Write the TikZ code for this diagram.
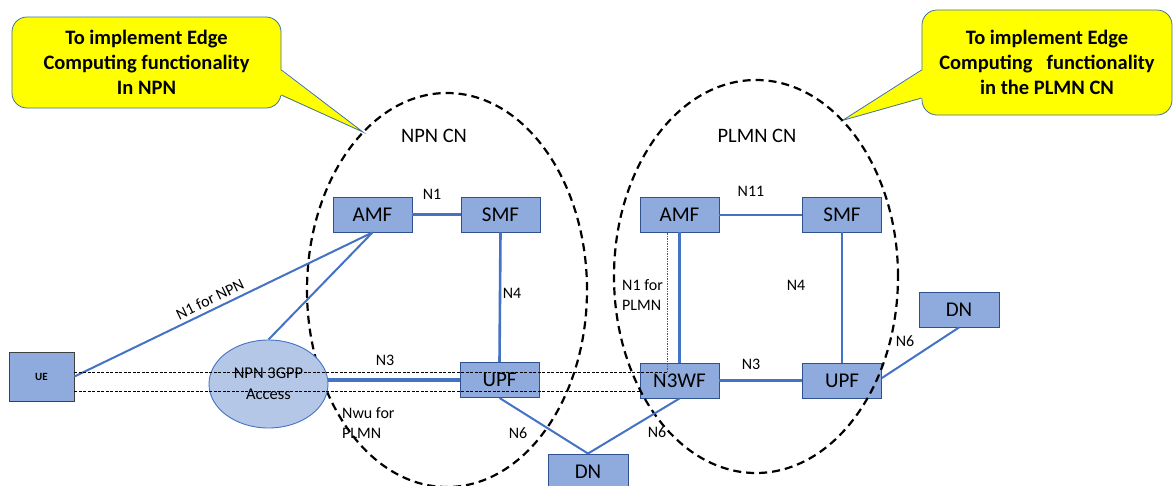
\documentclass[tikz,border=0pt]{standalone}
\usepackage{fontspec}
\setmainfont{Carlito}
\usetikzlibrary{shapes.geometric,calc}
\definecolor{boxfill}{HTML}{8FAADC}
\definecolor{boxline}{HTML}{2F528F}
\definecolor{linkblue}{HTML}{4472C4}
\definecolor{accfill}{HTML}{B4C7E7}
\definecolor{callfill}{HTML}{FFFF00}
\definecolor{callline}{HTML}{41719C}
\definecolor{uelines}{HTML}{404040}

\begin{document}
\begin{tikzpicture}[x=1pt,y=-1pt,
  nf/.style={draw=boxline, line width=0.9pt, fill=boxfill, minimum width=79pt,
    minimum height=35pt, inner sep=0pt, font=\fontsize{21}{24}\selectfont},
  cn/.style={ellipse, draw=black, line width=2.2pt, dash pattern=on 8pt off 5pt,
    inner sep=0pt},
  callout/.style={draw=callline, line width=0.8pt, fill=callfill, rounded corners=15pt,
    inner sep=0pt, align=center, font=\bfseries\fontsize{20.5}{24.8}\selectfont},
  link/.style={draw=linkblue, line width=2pt},
  thicklink/.style={draw=linkblue, line width=3.3pt},
  tdash/.style={draw=black, line width=0.8pt, dash pattern=on 3pt off 1.5pt},
  tdot/.style={draw=black!65, line width=0.8pt, dash pattern=on 1.5pt off 1pt},
  lbl/.style={font=\fontsize{16}{20}\selectfont, inner sep=1pt},
  cnlbl/.style={font=\fontsize{20.5}{24}\selectfont, inner sep=0pt}]
\clip (0,0) rectangle (1173,485);
\fill[white] (0,0) rectangle (1173,485);

% core network areas (placed first so the callouts can point at them)
\path (447,290) node[ellipse, minimum width=280pt, minimum height=394pt, inner sep=0pt] (npnshape) {};
\path (756,276.5) node[ellipse, minimum width=284pt, minimum height=393pt, inner sep=0pt] (plmnshape) {};

% callouts
\node[callout, minimum width=269pt, minimum height=91pt] (calloutL) at (146.5,62.5)
  {To implement Edge\\Computing functionality\\In NPN};
\fill[callfill] ($(calloutL.east)+(-1.5,7.5)$) -- (npnshape.118) -- ($(calloutL.east)+(-1.5,32.5)$) -- cycle;
\draw[callline, line width=0.8pt] ($(calloutL.east)+(0,7.5)$) -- (npnshape.118) -- ($(calloutL.east)+(0,32.5)$);

\node[callout, minimum width=250pt, minimum height=105pt] (calloutR) at (1047,62.5)
  {To implement Edge\\Computing\ \ \ functionality\\in the PLMN CN};
\fill[callfill] ($(calloutR.west)+(1.5,7.5)$) -- (plmnshape.61) -- ($(calloutR.west)+(1.5,35.5)$) -- cycle;
\draw[callline, line width=0.8pt] ($(calloutR.west)+(0,7.5)$) -- (plmnshape.61) -- ($(calloutR.west)+(0,35.5)$);

% network functions
\node[nf] (AMF)  at (372.5,214.5) {AMF};
\node[nf] (SMF)  at (500.5,214.5) {SMF};
\node[nf] (UPF)  at (499.5,380)   {UPF};
\node[nf] (PAMF) at (679.5,214.5) {AMF};
\node[nf] (PSMF) at (842,214.5)   {SMF};
\node[nf] (N3WF) at (679.5,380.5) {N3WF};
\node[nf] (PUPF) at (842,380.5)   {UPF};
\node[nf, minimum width=80pt] (DNR) at (959,309.5) {DN};
\node[nf, minimum width=80pt] (DNB) at (588,471.5) {DN};
\node[draw=uelines, line width=0.9pt, fill=boxfill, minimum width=65pt, minimum height=49pt,
  inner sep=0pt, font=\bfseries\fontsize{11}{13}\selectfont] (UE) at (41.5,376.5) {UE};

% dashed core network boundaries
\node[cn, minimum width=280pt, minimum height=394pt] (npn) at (447,290) {};
\node[cn, minimum width=284pt, minimum height=393pt] (plmn) at (756,276.5) {};
\node[cnlbl] (npnlbl)  at (434,136) {NPN CN};
\node[cnlbl] (plmnlbl) at (757,136) {PLMN CN};

% access network
\node[ellipse, draw=linkblue, line width=0.9pt, fill=accfill, minimum width=119pt,
  minimum height=88pt, inner sep=0pt, align=center,
  font=\fontsize{16.5}{21}\selectfont] (ACC) at (268.5,384) {NPN 3GPP\\Access};

% NPN links
\draw[link] (UE.east) -- node[lbl, sloped, above, pos=0.47, inner sep=4pt] {N1 for NPN} (AMF.south);
\draw[link] (ACC.north) -- (AMF.south);
\draw[thicklink] (AMF.east) -- (SMF.west);
\draw[link, line width=2.6pt] (SMF.south) -- (UPF.north);
\draw[thicklink] (UPF.west) -- (UPF.west -| ACC.east);
\draw[link] (UPF.south) -- (DNB.north);

% PLMN links
\draw[link] (PAMF.east) -- (PSMF.west);
\draw[thicklink] (PAMF.south) -- (N3WF.north);
\draw[link, line width=2.4pt] (PSMF.south) -- (PUPF.north);
\draw[thicklink] (N3WF.east) -- (PUPF.west);
\draw[link] (N3WF.south) -- (DNB.north);
\draw[link] ($(PUPF.east)+(0,-2.5)$) -- (DNR.south);

% signalling paths from the UE towards the PLMN
\coordinate (n1bend) at (667,372);
\draw[tdash] ($(UE.east)+(0,-4.5)$) -- (n1bend);
\draw[tdot] (n1bend) -- (n1bend |- PAMF.south);
\draw[tdash] ($(UE.east)+(0,15)$) -- ($(N3WF.west)+(0,11)$);

% interface labels
\node[lbl] (lN1)   at (432,194) {N1};
\node[lbl] (lN4a)  at (512,293) {N4};
\node[lbl] (lN3a)  at (385,360) {N3};
\node[lbl, anchor=west, align=left] (lNwu) at (341,423) {Nwu for\\PLMN};
\node[lbl, anchor=west, align=left] (lN1P) at (621,295) {N1 for\\PLMN};
\node[lbl] (lN11)  at (751,191) {N11};
\node[lbl] (lN4b)  at (796,285) {N4};
\node[lbl] (lN3b)  at (751,364) {N3};
\node[lbl] (lN6a)  at (518,433) {N6};
\node[lbl] (lN6b)  at (657,432) {N6};
\node[lbl] (lN6c)  at (905,341) {N6};
\end{tikzpicture}
\end{document}
